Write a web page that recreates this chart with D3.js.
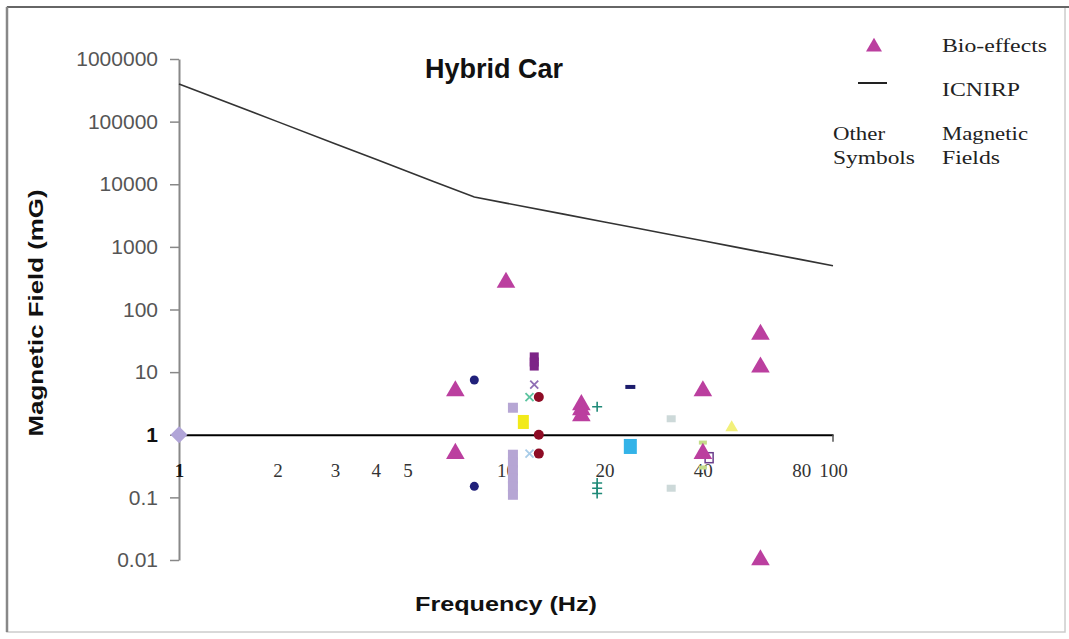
<!DOCTYPE html>
<html>
<head>
<meta charset="utf-8">
<script src="https://cdn.jsdelivr.net/npm/d3@7"></script>
<style>
  body { margin: 0; background: #fff; }
  #app { width: 1069px; height: 639px; }
</style>
</head>
<body>
<div id="app"></div>
<script>
// tick labels
const yTicks = [0.01, 0.1, 1, 10, 100, 1000, 10000, 100000, 1000000];
const xTicks = [1, 2, 3, 4, 5, 10, 20, 40, 80, 100];

// ICNIRP reference level line
const icnirpFreq  = [1, 2, 3, 4, 5, 6, 8, 10, 15, 20, 25, 30, 40, 50, 60, 80, 100];
const icnirpField = [400000, 100000, 44400, 25000, 16000, 11100, 6250, 5000, 3330, 2500, 2000, 1670, 1250, 1000, 833, 625, 500];

// bio-effects (triangles)
const bioFreq  = [10, 7, 7, 17, 17, 17, 40, 40, 60, 60, 60];
const bioField = [270, 5, 0.5, 3, 2.5, 2, 5, 0.5, 40, 12, 0.01];

// other symbols: measured magnetic fields
const otherGroup = ['A', 'B', 'B', 'C', 'C', 'C', 'C', 'C', 'C', 'C', 'D', 'E', 'E', 'E', 'F', 'G', 'H',
                    'I', 'I', 'I', 'J', 'J', 'J', 'J', 'K', 'L', 'M', 'M', 'N', 'O', 'O', 'P'];
const otherFreq  = [1, 8, 8, 10.5, 10.5, 10.5, 10.5, 10.5, 10.5, 10.5, 11.3, 12.2, 12.2, 12.2, 12.2, 11.8, 11.8,
                    12.6, 12.6, 12.6, 19, 19, 19, 19, 24, 24, 32, 32, 41.8, 40, 40, 49];
const otherField = [1, 7.5, 0.15, 2.7, 0.48, 0.36, 0.27, 0.2, 0.15, 0.11, 1.6, 17.5, 14.5, 12.5, 6.3, 4, 0.5,
                    4, 1, 0.5, 2.8, 0.17, 0.14, 0.115, 5.8, 0.65, 1.8, 0.14, 0.43, 0.75, 0.3, 1.3];

// marker look per group
const groupStyle = {
    A: { shape: 'diamond', color: '#b1a5d8', s: 6 },
    B: { shape: 'circle', color: '#20207a', s: 4.5 },
    C: { shape: 'rect', color: '#b6a6d4', w: 10, h: 10 },
    D: { shape: 'rect', color: '#f2ea1a', w: 11, h: 14 },
    E: { shape: 'rect', color: '#7d2487', w: 9, h: 9 },
    F: { shape: 'x', color: '#8f6fb5', s: 4 },
    G: { shape: 'x', color: '#5cc4a0', s: 4 },
    H: { shape: 'x', color: '#a8cce8', s: 4 },
    I: { shape: 'circle', color: '#8e0c25', s: 5 },
    J: { shape: 'plus', color: '#1f8a78', s: 5 },
    K: { shape: 'rect', color: '#1c1c6c', w: 10, h: 4 },
    L: { shape: 'rect', color: '#33b3e8', w: 13, h: 15 },
    M: { shape: 'rect', color: '#cdd9d9', w: 9, h: 7 },
    N: { shape: 'open', color: '#6a3e8c', w: 8, h: 10 },
    O: { shape: 'rect', color: '#c4dc8a', w: 8, h: 4 },
    P: { shape: 'tri', color: '#f2f07a', s: 70 }
};

const W = 1069, H = 639;
const svg = d3.select('#app').append('svg')
    .attr('width', W)
    .attr('height', H);

// frame
svg.append('rect').attr('x', 7).attr('y', 7).attr('width', W - 11).attr('height', 625)
    .attr('fill', '#fff').attr('stroke', '#ccc').attr('stroke-width', 1.5);
svg.append('line').attr('x1', 7).attr('x2', W).attr('y1', 7).attr('y2', 7)
    .attr('stroke', '#666').attr('stroke-width', 2);
svg.append('line').attr('x1', 7).attr('x2', 7).attr('y1', 7).attr('y2', 632)
    .attr('stroke', '#888').attr('stroke-width', 2.5);

const x = d3.scaleLog().domain([1, 100]).range([179, 833]);
const y = d3.scaleLog().domain([0.01, 1000000]).range([560, 59]);

// y axis
const yAxis = svg.append('g')
    .attr('transform', `translate(${x(1)},0)`)
    .call(d3.axisLeft(y).tickValues(yTicks).tickSize(9).tickSizeOuter(0).tickPadding(12)
        .tickFormat(d => d < 1 ? String(d) : d3.format('d')(d)));
yAxis.select('.domain').attr('stroke', '#888').attr('stroke-width', 2);
yAxis.selectAll('.tick line').attr('stroke', '#888').attr('stroke-width', 1.5);
yAxis.selectAll('.tick text')
    .style('font-family', 'Liberation Sans, Arial, sans-serif')
    .style('font-size', '21px')
    .attr('fill', d => d === 1 ? '#111' : '#555')
    .style('font-weight', d => d === 1 ? 'bold' : 'normal');

// x axis along field = 1
const xAxis = svg.append('g')
    .attr('transform', `translate(0,${y(1)})`)
    .call(d3.axisBottom(x).tickValues(xTicks).tickSize(0).tickSizeOuter(0).tickFormat(d => String(d)));
xAxis.select('.domain').attr('stroke', '#000').attr('stroke-width', 2);
xAxis.selectAll('.tick text')
    .attr('y', 42).attr('dy', 0)
    .style('font-family', 'Liberation Serif, Times New Roman, serif')
    .style('font-size', '19px')
    .style('font-weight', d => d === 1 ? 'bold' : 'normal')
    .attr('fill', d => d === 1 ? '#111' : '#333');
svg.append('line')
    .attr('x1', x(100)).attr('x2', x(100))
    .attr('y1', y(1)).attr('y2', y(1) + 7)
    .attr('stroke', '#555').attr('stroke-width', 1.5);

// ICNIRP line
const line = d3.line().x((d, i) => x(icnirpFreq[i])).y(d => y(d));
svg.append('path')
    .datum(icnirpField)
    .attr('d', line)
    .attr('fill', 'none')
    .attr('stroke', '#333')
    .attr('stroke-width', 1.6);

// other symbols
const others = otherGroup.map((g, i) => ({ g, f: otherFreq[i], v: otherField[i] }));
const om = svg.append('g').selectAll('g')
    .data(others)
    .enter().append('g')
    .attr('transform', d => `translate(${x(d.f)},${y(d.v)})`);

om.each(function (d) {
    const st = groupStyle[d.g];
    const el = d3.select(this);
    if (st.shape === 'circle') {
        el.append('circle').attr('r', st.s).attr('fill', st.color);
    } else if (st.shape === 'rect') {
        el.append('rect').attr('x', -st.w / 2).attr('y', -st.h / 2)
            .attr('width', st.w).attr('height', st.h).attr('fill', st.color);
    } else if (st.shape === 'open') {
        el.append('rect').attr('x', -st.w / 2).attr('y', -st.h / 2)
            .attr('width', st.w).attr('height', st.h)
            .attr('fill', 'none').attr('stroke', st.color).attr('stroke-width', 1.5);
    } else if (st.shape === 'diamond') {
        el.append('rect').attr('x', -st.s).attr('y', -st.s)
            .attr('width', st.s * 2).attr('height', st.s * 2)
            .attr('transform', 'rotate(45)').attr('fill', st.color);
    } else if (st.shape === 'x') {
        const s = st.s;
        el.append('path').attr('d', `M${-s},${-s}L${s},${s}M${-s},${s}L${s},${-s}`)
            .attr('stroke', st.color).attr('stroke-width', 1.8).attr('fill', 'none');
    } else if (st.shape === 'plus') {
        const s = st.s;
        el.append('path').attr('d', `M${-s},0L${s},0M0,${-s}L0,${s}`)
            .attr('stroke', st.color).attr('stroke-width', 1.6).attr('fill', 'none');
    } else if (st.shape === 'tri') {
        el.append('path').attr('d', d3.symbol(d3.symbolTriangle, st.s)())
            .attr('fill', st.color);
    }
});

// bio-effects triangles
const triColor = '#bb3f9f';
const tri = d3.symbol(d3.symbolTriangle, 150);
svg.append('g').selectAll('path')
    .data(bioField)
    .enter().append('path')
    .attr('transform', (d, i) => `translate(${x(bioFreq[i])},${y(d)})`)
    .attr('d', tri())
    .attr('fill', triColor);

// titles
svg.append('text')
    .attr('x', 494).attr('y', 78)
    .attr('text-anchor', 'middle')
    .style('font-family', 'Liberation Sans, Arial, sans-serif')
    .style('font-weight', 'bold')
    .style('font-size', '27px')
    .attr('fill', '#111')
    .text('Hybrid Car');

svg.append('text')
    .attr('transform', 'translate(43,313) rotate(-90)')
    .attr('text-anchor', 'middle')
    .attr('textLength', 247)
    .attr('lengthAdjust', 'spacingAndGlyphs')
    .style('font-family', 'Liberation Sans, Arial, sans-serif')
    .style('font-weight', 'bold')
    .style('font-size', '21px')
    .attr('fill', '#111')
    .text('Magnetic Field (mG)');

svg.append('text')
    .attr('x', 506).attr('y', 611)
    .attr('text-anchor', 'middle')
    .attr('textLength', 182)
    .attr('lengthAdjust', 'spacingAndGlyphs')
    .style('font-family', 'Liberation Sans, Arial, sans-serif')
    .style('font-weight', 'bold')
    .style('font-size', '20px')
    .attr('fill', '#111')
    .text('Frequency (Hz)');

// legend
const lg = svg.append('g')
    .style('font-family', 'Liberation Serif, Times New Roman, serif')
    .style('font-size', '18px')
    .attr('fill', '#222');
lg.append('path').attr('transform', 'translate(874,47)').attr('d', d3.symbol(d3.symbolTriangle, 110)()).attr('fill', triColor);
lg.append('line').attr('x1', 858).attr('x2', 887).attr('y1', 83).attr('y2', 83)
    .attr('stroke', '#222').attr('stroke-width', 2);
const legendText = [
    ['Bio-effects', 942, 52, 105],
    ['ICNIRP', 942, 96, 78],
    ['Other', 833, 140, 52],
    ['Magnetic', 942, 140, 86],
    ['Symbols', 833, 164, 82],
    ['Fields', 942, 164, 58]
];
lg.selectAll('text')
    .data(legendText)
    .enter().append('text')
    .attr('x', d => d[1]).attr('y', d => d[2])
    .attr('textLength', d => d[3])
    .attr('lengthAdjust', 'spacingAndGlyphs')
    .text(d => d[0]);
</script>
</body>
</html>
